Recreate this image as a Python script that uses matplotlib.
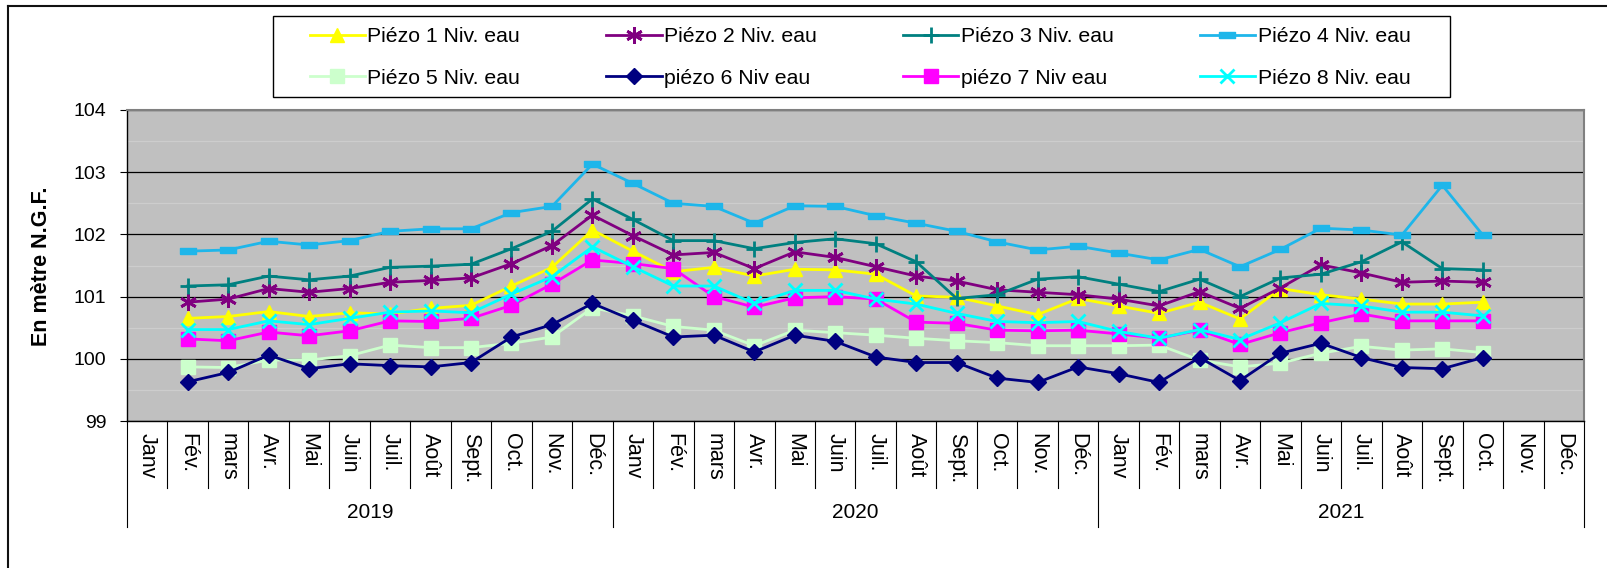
import numpy as np
import matplotlib
matplotlib.use("Agg")
import matplotlib.pyplot as plt
from matplotlib.lines import Line2D
from matplotlib.patches import Rectangle
import matplotlib.transforms as mtransforms

plt.rcParams['font.family'] = ['Liberation Sans', 'DejaVu Sans']

nan = np.nan
months = ['Janv', 'Fév.', 'mars', 'Avr.', 'Mai', 'Juin', 'Juil.', 'Août', 'Sept.', 'Oct.', 'Nov.', 'Déc.']
years = ['2019', '2020', '2021']

p1 = [nan, 100.65, 100.68, 100.76, 100.68, 100.74, 100.72, 100.81, 100.86, 101.17, 101.47, 102.07,
      101.73, 101.40, 101.47, 101.33, 101.44, 101.43, 101.36, 101.01, 100.99, 100.85, 100.71, 100.97,
      100.85, 100.73, 100.91, 100.64, 101.13, 101.03, 100.96, 100.88, 100.88, 100.91, nan, nan]
p2 = [nan, 100.91, 100.96, 101.13, 101.07, 101.13, 101.23, 101.26, 101.30, 101.53, 101.82, 102.31,
      101.98, 101.67, 101.71, 101.45, 101.72, 101.63, 101.48, 101.33, 101.25, 101.11, 101.07, 101.03,
      100.96, 100.85, 101.08, 100.81, 101.14, 101.51, 101.38, 101.23, 101.25, 101.23, nan, nan]
p3 = [nan, 101.17, 101.19, 101.33, 101.27, 101.33, 101.47, 101.49, 101.52, 101.77, 102.05, 102.57,
      102.24, 101.90, 101.90, 101.77, 101.87, 101.93, 101.85, 101.56, 100.97, 101.03, 101.28, 101.32,
      101.20, 101.08, 101.28, 101.00, 101.30, 101.36, 101.56, 101.88, 101.45, 101.43, nan, nan]
p4 = [nan, 101.73, 101.75, 101.89, 101.83, 101.90, 102.05, 102.09, 102.09, 102.35, 102.45, 103.13,
      102.82, 102.50, 102.45, 102.18, 102.46, 102.45, 102.30, 102.18, 102.05, 101.88, 101.75, 101.81,
      101.70, 101.59, 101.76, 101.48, 101.76, 102.10, 102.07, 101.99, 102.79, 101.99, nan, nan]
p5 = [nan, 99.87, 99.86, 99.98, 99.98, 100.05, 100.22, 100.18, 100.18, 100.25, 100.35, 100.82,
      100.69, 100.52, 100.46, 100.21, 100.46, 100.42, 100.38, 100.33, 100.29, 100.26, 100.21, 100.21,
      100.21, 100.22, 99.98, 99.87, 99.93, 100.09, 100.20, 100.14, 100.16, 100.10, nan, nan]
p6 = [nan, 99.63, 99.78, 100.06, 99.84, 99.92, 99.89, 99.87, 99.94, 100.35, 100.55, 100.89,
      100.62, 100.35, 100.38, 100.11, 100.38, 100.28, 100.03, 99.94, 99.94, 99.69, 99.62, 99.87,
      99.76, 99.62, 100.02, 99.65, 100.09, 100.25, 100.02, 99.86, 99.84, 100.02, nan, nan]
p7 = [nan, 100.32, 100.29, 100.43, 100.37, 100.45, 100.61, 100.60, 100.65, 100.86, 101.20, 101.59,
      101.53, 101.45, 101.00, 100.83, 100.98, 101.00, 100.96, 100.59, 100.57, 100.46, 100.45, 100.46,
      100.40, 100.33, 100.46, 100.23, 100.42, 100.58, 100.72, 100.61, 100.61, 100.61, nan, nan]
p8 = [nan, 100.47, 100.47, 100.61, 100.55, 100.65, 100.75, 100.77, 100.74, 101.04, 101.32, 101.80,
      101.48, 101.17, 101.17, 100.89, 101.10, 101.10, 100.96, 100.88, 100.73, 100.60, 100.58, 100.60,
      100.44, 100.33, 100.47, 100.31, 100.58, 100.89, 100.85, 100.75, 100.75, 100.69, nan, nan]

labels = ['Piézo 1 Niv. eau', 'Piézo 2 Niv. eau', 'Piézo 3 Niv. eau', 'Piézo 4 Niv. eau',
          'Piézo 5 Niv. eau', 'piézo 6 Niv eau', 'piézo 7 Niv eau', 'Piézo 8 Niv. eau']

bar_marker = [(-3, -1), (3, -1), (3, 1), (-3, 1), (-3, -1)]
styles = [
    dict(color='#FFFF00', marker='^', ms=10.5),
    dict(color='#800080', marker=(6, 2, 0), ms=12, mew=2),
    dict(color='#008080', marker='+', ms=12, mew=2),
    dict(color='#1EB6EA', marker=bar_marker, ms=12),
    dict(color='#CCFFCC', marker='s', ms=10.5),
    dict(color='#000080', marker='D', ms=8.5),
    dict(color='#FF00FF', marker='s', ms=10.5),
    dict(color='#00FFFF', marker='x', ms=10, mew=2),
]
series = [p1, p2, p3, p4, p5, p6, p7, p8]

W, H = 1608, 568
fig = plt.figure(figsize=(W / 100, H / 100), dpi=100)
L, R, T, B = 127, 1584, 110, 421
ax = fig.add_axes([L / W, 1 - B / H, (R - L) / W, (B - T) / H])
ax.set_facecolor('#C0C0C0')

x = np.arange(36)
handles = []
for vals, st, lab in zip(series, styles, labels):
    h, = ax.plot(x, vals, lw=2.0, label=lab, color=st['color'], marker=st['marker'],
                 ms=st['ms'], mew=st.get('mew', 1), mfc=st['color'], mec=st['color'], zorder=3)
    handles.append(h)

ax.set_xlim(-0.5, 35.5)
ax.set_ylim(99, 104)
ax.set_yticks([99, 100, 101, 102, 103, 104])
ax.set_yticks(np.arange(99.5, 104, 1.0), minor=True)
ax.yaxis.grid(True, which='major', color='black', lw=0.9, zorder=1)
ax.yaxis.grid(True, which='minor', color='#CDCDCD', lw=0.9, zorder=1)
ax.set_axisbelow(True)
ax.tick_params(axis='y', which='major', labelsize=14, length=5, width=0.8, pad=10, color='black')
ax.tick_params(axis='y', which='minor', length=0)

ax.set_xticks(x)
ax.set_xticklabels(months * 3, rotation=270, fontsize=15.5)
ax.tick_params(axis='x', length=0, pad=8.5)

for s in ['top', 'right']:
    ax.spines[s].set_color('#808080')
    ax.spines[s].set_linewidth(1.5)
for s in ['left', 'bottom']:
    ax.spines[s].set_color('black')
    ax.spines[s].set_linewidth(1.0)

trans = mtransforms.blended_transform_factory(ax.transData, ax.transAxes)
sep_end = (B - 488) / (B - T)
year_end = (B - 527) / (B - T)
year_y = (B - 513) / (B - T)
for k in range(37):
    yend = year_end if k % 12 == 0 else sep_end
    ax.plot([k - 0.5, k - 0.5], [0, yend], transform=trans, clip_on=False,
            color='black', lw=0.8)
for i, yr in enumerate(years):
    ax.text(12 * i + 5.5, year_y, yr, transform=trans, ha='center', va='center', fontsize=15)

fig.text(42 / W, 1 - 266 / H, 'En mètre N.G.F.', rotation=90, ha='center', va='center',
         fontsize=15.5, fontweight='bold')

# legend box
fig.patches.append(Rectangle((273 / W, 1 - 97 / H), (1450 - 273) / W, (97 - 16) / H,
                             transform=fig.transFigure, facecolor='white', edgecolor='black',
                             lw=1.0, zorder=0))
order = [0, 4, 1, 5, 2, 6, 3, 7]
fig.legend([handles[i] for i in order], [labels[i] for i in order], ncol=4,
           loc='center', bbox_to_anchor=(860 / W, 1 - 57.5 / H), frameon=False,
           fontsize=15.3, handlelength=2.6, handletextpad=0.12, columnspacing=4.05,
           labelspacing=1.05, borderpad=0.0)

# outer border
fig.add_artist(Line2D([8 / W, 1.0], [1 - 6 / H, 1 - 6 / H], transform=fig.transFigure,
                      color='#111111', lw=1.5))
fig.add_artist(Line2D([8 / W, 8 / W], [0, 1 - 6 / H], transform=fig.transFigure,
                      color='#111111', lw=1.5))

fig.savefig('out.png', dpi=100)
